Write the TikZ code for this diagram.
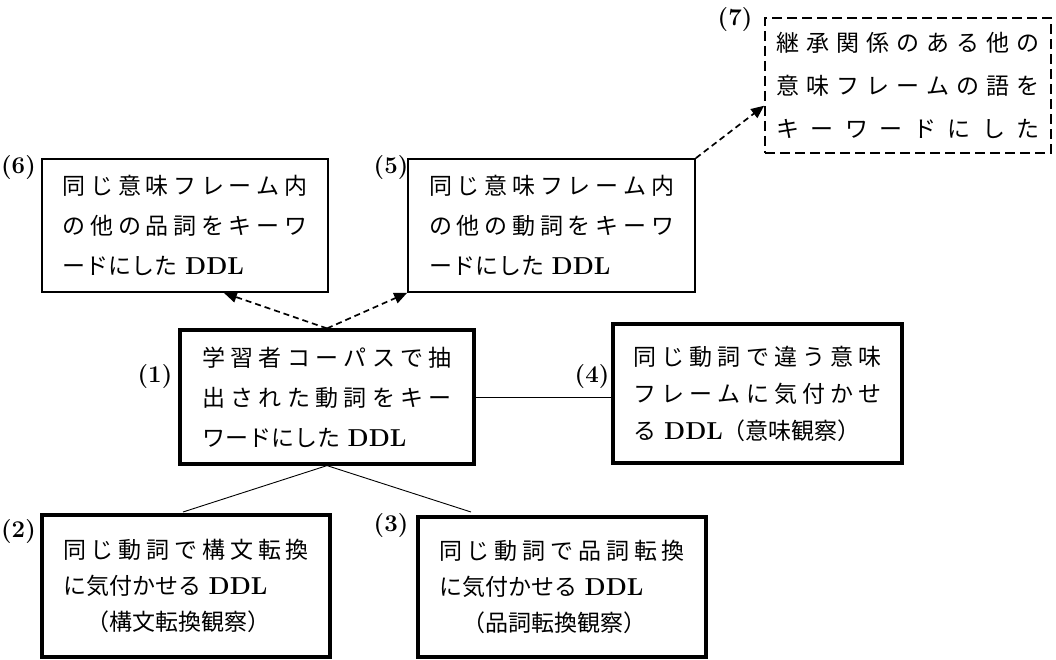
\documentclass[tikz,border=0pt]{standalone}
\usepackage{fontspec}
\newfontfamily\jp{Noto Sans CJK JP}
\usetikzlibrary{arrows.meta}
\newcommand\J[1]{\leavevmode\hbox to \hsize{\Jx#1\relax}}
\def\Jx#1{\ifx\relax#1\unskip\else#1\hfil\expandafter\Jx\fi}
\newcommand\DDL{{\rmfamily\bfseries\fontsize{24.5}{30}\selectfont\ DDL}}
\tikzset{
  box/.style={draw, rectangle, inner sep=0pt, align=left, line width=1.7pt},
  thickbox/.style={box, line width=3.2pt},
  dbox/.style={box, line width=1.7pt, dash pattern=on 10pt off 5pt},
  lbl/.style={font=\bfseries\fontsize{24}{28}\selectfont, inner sep=0pt},
  conn/.style={line width=0.9pt},
  darrow/.style={line width=1.7pt, dash pattern=on 6pt off 4pt, -{Triangle[length=13pt,width=11pt]}},
}
\begin{document}
\begin{tikzpicture}[x=1pt,y=-1pt]
\useasboundingbox (0,0) rectangle (1056,660);
% boxes
\node[box, minimum width=286pt, minimum height=133pt, text width=245pt,
      font={\jp\fontsize{23}{40}\selectfont}] (n6) at (185,225.5)
  {\J{同じ意味フレーム内}\\\J{の他の品詞をキーワ}\\ードにした\DDL};
\node[box, minimum width=287pt, minimum height=133pt, text width=245pt,
      font={\jp\fontsize{23}{40}\selectfont}] (n5) at (551.5,225.5)
  {\J{同じ意味フレーム内}\\\J{の他の動詞をキーワ}\\ードにした\DDL};
\node[dbox, minimum width=286pt, minimum height=135pt, text width=263pt,
      font={\jp\fontsize{23}{43}\selectfont}] (n7) at (908,85.5)
  {\J{継承関係のある他の}\\\J{意味フレームの語を}\\\J{キーワードにした}};
\node[thickbox, minimum width=294pt, minimum height=134pt, text width=250pt,
      font={\jp\fontsize{23}{40}\selectfont}] (n1) at (327,397)
  {\J{学習者コーパスで抽}\\\J{出された動詞をキー}\\ワードにした\DDL};
\node[thickbox, minimum width=289pt, minimum height=139pt, text width=248pt,
      font={\jp\fontsize{23}{37}\selectfont}] (n4) at (757.5,393.5)
  {\J{同じ動詞で違う意味}\\\J{フレームに気付かせ}\\る\DDL（意味観察）};
\node[thickbox, minimum width=288pt, minimum height=142pt, text width=246pt,
      font={\jp\fontsize{23}{36}\selectfont}] (n2) at (186,586)
  {\J{同じ動詞で構文転換}\\に気付かせる\DDL\\　（構文転換観察）};
\node[thickbox, minimum width=288pt, minimum height=140pt, text width=246pt,
      font={\jp\fontsize{23}{36}\selectfont}] (n3) at (562,587)
  {\J{同じ動詞で品詞転換}\\に気付かせる\DDL\\　（品詞転換観察）};
% labels
\node[lbl] (l6) at (18.5,168) {(6)};
\node[lbl] (l5) at (391,168) {(5)};
\node[lbl] (l7) at (735,20) {(7)};
\node[lbl] (l1) at (155,377) {(1)};
\node[lbl] (l4) at (592,377) {(4)};
\node[lbl] (l2) at (18.5,532) {(2)};
\node[lbl] (l3) at (391,526) {(3)};
% connectors
\coordinate (c2) at (183,512);
\coordinate (c3) at (471,512);
\draw[darrow] (n1.north) -- (n6.-60);
\draw[darrow] (n1.north) -- (n5.south west);
\draw[darrow] (n5.north east) -- (n7.188);
\draw[conn] (n1.east) -- (n1.east -| n4.west);
\draw[conn] (n1.south) -- (c2);
\draw[conn] (n1.south) -- (c3);
\end{tikzpicture}
\end{document}
